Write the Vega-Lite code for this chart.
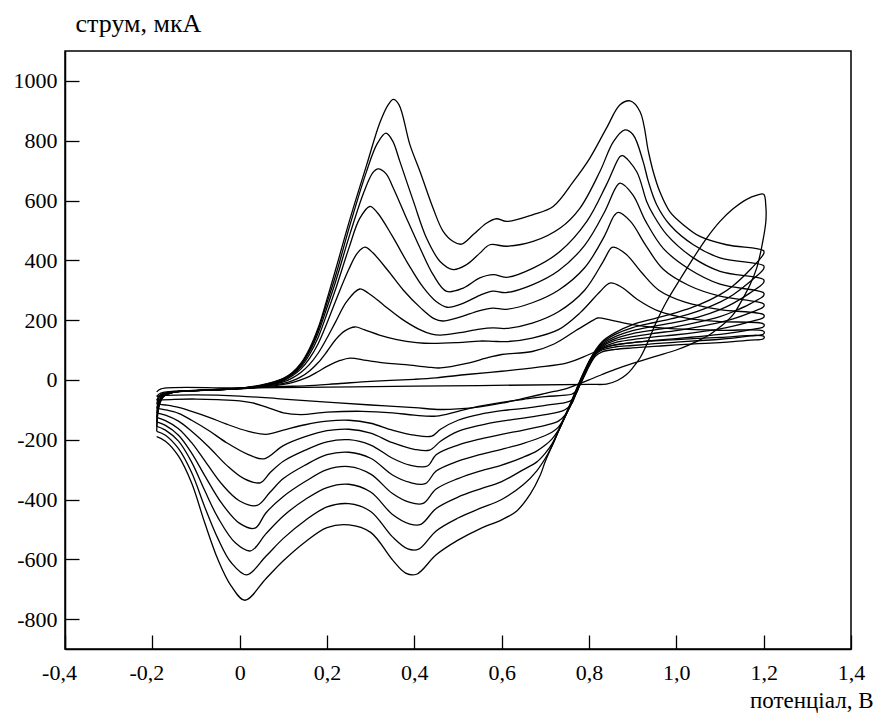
{
"$schema":"https://vega.github.io/schema/vega-lite/v6.json",
"width":786,"height":598,
"autosize":{"type":"none"},
"padding":{"left":65,"top":51,"right":25,"bottom":66},
"background":"white",
"config":{"font":"Liberation Serif, Times New Roman, serif","view":{"stroke":"black","strokeWidth":1.5},
"axis":{"labelFont":"Liberation Serif, Times New Roman, serif","labelFontSize":22,"labelColor":"black","titleFont":"Liberation Serif, Times New Roman, serif","titleFontSize":22,"titleFontWeight":"normal","titleColor":"black","domainColor":"black","domainWidth":1.5,"tickColor":"black","tickWidth":1.3,"grid":false,"labelOverlap":false,"labelFlush":false,"labelBound":false}},
"data":{"values":[
{"c":0,"i":0,"v":-0.19,"a":-40},{"c":0,"i":1,"v":-0.18,"a":-30},{"c":0,"i":2,"v":0.0,"a":-27},{"c":0,"i":3,"v":0.4,"a":-21},{"c":0,"i":4,"v":0.8,"a":-15},{"c":0,"i":5,"v":0.84,"a":-14},{"c":0,"i":6,"v":0.865,"a":-2},{"c":0,"i":7,"v":0.886,"a":18},{"c":0,"i":8,"v":0.9,"a":40},{"c":0,"i":9,"v":0.917,"a":74},{"c":0,"i":10,"v":0.932,"a":118},{"c":0,"i":11,"v":0.955,"a":196},{"c":0,"i":12,"v":0.978,"a":263},{"c":0,"i":13,"v":1.01,"a":340},{"c":0,"i":14,"v":1.04,"a":410},{"c":0,"i":15,"v":1.07,"a":475},{"c":0,"i":16,"v":1.1,"a":530},{"c":0,"i":17,"v":1.13,"a":572},{"c":0,"i":18,"v":1.16,"a":603},{"c":0,"i":19,"v":1.185,"a":618},{"c":0,"i":20,"v":1.2,"a":621},{"c":0,"i":21,"v":1.205,"a":580},{"c":0,"i":22,"v":1.205,"a":530},{"c":0,"i":23,"v":1.195,"a":441},{"c":0,"i":24,"v":1.184,"a":374},{"c":0,"i":25,"v":1.169,"a":319},{"c":0,"i":26,"v":1.153,"a":274},{"c":0,"i":27,"v":1.13,"a":218},{"c":0,"i":28,"v":1.107,"a":185},{"c":0,"i":29,"v":1.077,"a":152},{"c":0,"i":30,"v":1.047,"a":129},{"c":0,"i":31,"v":1.031,"a":118},{"c":0,"i":32,"v":1.0,"a":100},{"c":0,"i":33,"v":0.95,"a":78},{"c":0,"i":34,"v":0.9,"a":55},{"c":0,"i":35,"v":0.86,"a":35},{"c":0,"i":36,"v":0.83,"a":18},{"c":0,"i":37,"v":0.8,"a":0},{"c":0,"i":38,"v":0.78,"a":-12},{"c":0,"i":39,"v":0.75,"a":-28},{"c":0,"i":40,"v":0.7,"a":-45},{"c":0,"i":41,"v":0.65,"a":-62},{"c":0,"i":42,"v":0.6,"a":-78},{"c":0,"i":43,"v":0.55,"a":-90},{"c":0,"i":44,"v":0.5,"a":-97},{"c":0,"i":45,"v":0.46,"a":-99},{"c":0,"i":46,"v":0.4,"a":-93},{"c":0,"i":47,"v":0.3,"a":-84},{"c":0,"i":48,"v":0.2,"a":-74},{"c":0,"i":49,"v":0.1,"a":-64},{"c":0,"i":50,"v":0.0,"a":-54},{"c":0,"i":51,"v":-0.1,"a":-50},{"c":0,"i":52,"v":-0.17,"a":-52},{"c":0,"i":53,"v":-0.19,"a":-55},

{"c":1,"i":0,"v":-0.19,"a":-55},{"c":1,"i":1,"v":-0.185,"a":-48},{"c":1,"i":2,"v":-0.175,"a":-42},{"c":1,"i":3,"v":-0.15,"a":-38},{"c":1,"i":4,"v":-0.1,"a":-35},{"c":1,"i":5,"v":-0.05,"a":-32},{"c":1,"i":6,"v":0.0,"a":-30},{"c":1,"i":7,"v":0.05,"a":-25},{"c":1,"i":8,"v":0.1,"a":-22},{"c":1,"i":9,"v":0.15,"a":-20},{"c":1,"i":10,"v":0.23,"a":-12},{"c":1,"i":11,"v":0.3,"a":-5},{"c":1,"i":12,"v":0.4,"a":2},{"c":1,"i":13,"v":0.45,"a":7},{"c":1,"i":14,"v":0.52,"a":18},{"c":1,"i":15,"v":0.6,"a":29},{"c":1,"i":16,"v":0.68,"a":42},{"c":1,"i":17,"v":0.75,"a":57},{"c":1,"i":18,"v":0.8,"a":85},{"c":1,"i":19,"v":0.84,"a":110},{"c":1,"i":20,"v":0.9,"a":125},{"c":1,"i":21,"v":1.0,"a":135},{"c":1,"i":22,"v":1.1,"a":142},{"c":1,"i":23,"v":1.2,"a":146},
{"c":1,"i":24,"v":1.2,"a":138},{"c":1,"i":25,"v":1.17,"a":133},{"c":1,"i":26,"v":1.13,"a":128},{"c":1,"i":27,"v":1.1,"a":125},{"c":1,"i":28,"v":1.05,"a":121},{"c":1,"i":29,"v":1.0,"a":117},{"c":1,"i":30,"v":0.95,"a":112},{"c":1,"i":31,"v":0.9,"a":107},{"c":1,"i":32,"v":0.86,"a":102},{"c":1,"i":33,"v":0.83,"a":94},{"c":1,"i":34,"v":0.815,"a":80},{"c":1,"i":35,"v":0.8,"a":45},{"c":1,"i":36,"v":0.79,"a":15},{"c":1,"i":37,"v":0.78,"a":-15},{"c":1,"i":38,"v":0.77,"a":-38},{"c":1,"i":39,"v":0.76,"a":-48},{"c":1,"i":40,"v":0.74,"a":-52},{"c":1,"i":41,"v":0.7,"a":-56},{"c":1,"i":42,"v":0.65,"a":-65},{"c":1,"i":43,"v":0.6,"a":-75},{"c":1,"i":44,"v":0.55,"a":-88},{"c":1,"i":45,"v":0.5,"a":-105},{"c":1,"i":46,"v":0.45,"a":-121},{"c":1,"i":47,"v":0.4,"a":-118},{"c":1,"i":48,"v":0.35,"a":-110},{"c":1,"i":49,"v":0.28,"a":-105},{"c":1,"i":50,"v":0.2,"a":-108},{"c":1,"i":51,"v":0.14,"a":-116},{"c":1,"i":52,"v":0.1,"a":-110},{"c":1,"i":53,"v":0.06,"a":-90},{"c":1,"i":54,"v":0.03,"a":-77},{"c":1,"i":55,"v":0.0,"a":-70},{"c":1,"i":56,"v":-0.05,"a":-66},{"c":1,"i":57,"v":-0.1,"a":-64},{"c":1,"i":58,"v":-0.15,"a":-65},{"c":1,"i":59,"v":-0.19,"a":-68},

{"c":2,"i":0,"v":-0.19,"a":-68},{"c":2,"i":1,"v":-0.185,"a":-55},{"c":2,"i":2,"v":-0.175,"a":-45},{"c":2,"i":3,"v":-0.15,"a":-39},{"c":2,"i":4,"v":-0.1,"a":-35},{"c":2,"i":5,"v":-0.05,"a":-32},{"c":2,"i":6,"v":0.0,"a":-29},{"c":2,"i":7,"v":0.05,"a":-24},{"c":2,"i":8,"v":0.1,"a":-15},{"c":2,"i":9,"v":0.12,"a":-9},{"c":2,"i":10,"v":0.14,"a":0},{"c":2,"i":11,"v":0.16,"a":12},{"c":2,"i":12,"v":0.18,"a":28},{"c":2,"i":13,"v":0.2,"a":45},{"c":2,"i":14,"v":0.23,"a":65},{"c":2,"i":15,"v":0.253,"a":73},{"c":2,"i":16,"v":0.29,"a":65},{"c":2,"i":17,"v":0.33,"a":57},{"c":2,"i":18,"v":0.38,"a":51},{"c":2,"i":19,"v":0.43,"a":43},{"c":2,"i":20,"v":0.46,"a":40},{"c":2,"i":21,"v":0.52,"a":55},{"c":2,"i":22,"v":0.57,"a":75},{"c":2,"i":23,"v":0.6,"a":85},{"c":2,"i":24,"v":0.67,"a":95},{"c":2,"i":25,"v":0.72,"a":120},{"c":2,"i":26,"v":0.77,"a":165},{"c":2,"i":27,"v":0.81,"a":200},{"c":2,"i":28,"v":0.82,"a":207},{"c":2,"i":29,"v":0.85,"a":200},{"c":2,"i":30,"v":0.9,"a":185},{"c":2,"i":31,"v":0.98,"a":172},{"c":2,"i":32,"v":1.1,"a":166},{"c":2,"i":33,"v":1.2,"a":163},
{"c":2,"i":34,"v":1.2,"a":154},{"c":2,"i":35,"v":1.17,"a":147},{"c":2,"i":36,"v":1.13,"a":140},{"c":2,"i":37,"v":1.1,"a":136},{"c":2,"i":38,"v":1.05,"a":131},{"c":2,"i":39,"v":1.0,"a":126},{"c":2,"i":40,"v":0.95,"a":121},{"c":2,"i":41,"v":0.9,"a":115},{"c":2,"i":42,"v":0.86,"a":110},{"c":2,"i":43,"v":0.83,"a":100},{"c":2,"i":44,"v":0.815,"a":85},{"c":2,"i":45,"v":0.8,"a":48},{"c":2,"i":46,"v":0.79,"a":18},{"c":2,"i":47,"v":0.78,"a":-14},{"c":2,"i":48,"v":0.77,"a":-48},{"c":2,"i":49,"v":0.76,"a":-68},{"c":2,"i":50,"v":0.745,"a":-76},{"c":2,"i":51,"v":0.7,"a":-85},{"c":2,"i":52,"v":0.65,"a":-95},{"c":2,"i":53,"v":0.6,"a":-103},{"c":2,"i":54,"v":0.55,"a":-115},{"c":2,"i":55,"v":0.5,"a":-135},{"c":2,"i":56,"v":0.46,"a":-165},{"c":2,"i":57,"v":0.44,"a":-188},{"c":2,"i":58,"v":0.4,"a":-185},{"c":2,"i":59,"v":0.35,"a":-168},{"c":2,"i":60,"v":0.3,"a":-145},{"c":2,"i":61,"v":0.25,"a":-135},{"c":2,"i":62,"v":0.2,"a":-138},{"c":2,"i":63,"v":0.15,"a":-150},{"c":2,"i":64,"v":0.1,"a":-168},{"c":2,"i":65,"v":0.06,"a":-182},{"c":2,"i":66,"v":0.02,"a":-172},{"c":2,"i":67,"v":-0.03,"a":-148},{"c":2,"i":68,"v":-0.07,"a":-125},{"c":2,"i":69,"v":-0.11,"a":-105},{"c":2,"i":70,"v":-0.14,"a":-92},{"c":2,"i":71,"v":-0.17,"a":-84},{"c":2,"i":72,"v":-0.19,"a":-80},

{"c":3,"i":0,"v":-0.19,"a":-80},{"c":3,"i":1,"v":-0.185,"a":-60},{"c":3,"i":2,"v":-0.175,"a":-47},{"c":3,"i":3,"v":-0.15,"a":-40},{"c":3,"i":4,"v":-0.1,"a":-36},{"c":3,"i":5,"v":-0.05,"a":-32},{"c":3,"i":6,"v":0.0,"a":-29},{"c":3,"i":7,"v":0.05,"a":-23},{"c":3,"i":8,"v":0.1,"a":-12},{"c":3,"i":9,"v":0.12,"a":-3},{"c":3,"i":10,"v":0.14,"a":10},{"c":3,"i":11,"v":0.16,"a":30},{"c":3,"i":12,"v":0.18,"a":58},{"c":3,"i":13,"v":0.2,"a":95},{"c":3,"i":14,"v":0.22,"a":135},{"c":3,"i":15,"v":0.24,"a":163},{"c":3,"i":16,"v":0.264,"a":177},{"c":3,"i":17,"v":0.285,"a":168},{"c":3,"i":18,"v":0.32,"a":150},{"c":3,"i":19,"v":0.36,"a":135},{"c":3,"i":20,"v":0.405,"a":125},{"c":3,"i":21,"v":0.44,"a":122},{"c":3,"i":22,"v":0.5,"a":125},{"c":3,"i":23,"v":0.55,"a":130},{"c":3,"i":24,"v":0.58,"a":129},{"c":3,"i":25,"v":0.61,"a":128},{"c":3,"i":26,"v":0.67,"a":140},{"c":3,"i":27,"v":0.73,"a":168},{"c":3,"i":28,"v":0.78,"a":225},{"c":3,"i":29,"v":0.825,"a":295},{"c":3,"i":30,"v":0.848,"a":324},{"c":3,"i":31,"v":0.875,"a":310},{"c":3,"i":32,"v":0.91,"a":270},{"c":3,"i":33,"v":0.96,"a":230},{"c":3,"i":34,"v":1.03,"a":205},{"c":3,"i":35,"v":1.1,"a":195},{"c":3,"i":36,"v":1.2,"a":187},
{"c":3,"i":37,"v":1.2,"a":178},{"c":3,"i":38,"v":1.17,"a":168},{"c":3,"i":39,"v":1.13,"a":158},{"c":3,"i":40,"v":1.1,"a":152},{"c":3,"i":41,"v":1.05,"a":145},{"c":3,"i":42,"v":1.0,"a":138},{"c":3,"i":43,"v":0.95,"a":132},{"c":3,"i":44,"v":0.9,"a":125},{"c":3,"i":45,"v":0.86,"a":118},{"c":3,"i":46,"v":0.83,"a":104},{"c":3,"i":47,"v":0.815,"a":88},{"c":3,"i":48,"v":0.8,"a":50},{"c":3,"i":49,"v":0.79,"a":20},{"c":3,"i":50,"v":0.78,"a":-12},{"c":3,"i":51,"v":0.77,"a":-47},{"c":3,"i":52,"v":0.76,"a":-80},{"c":3,"i":53,"v":0.745,"a":-100},{"c":3,"i":54,"v":0.73,"a":-108},{"c":3,"i":55,"v":0.7,"a":-116},{"c":3,"i":56,"v":0.65,"a":-128},{"c":3,"i":57,"v":0.6,"a":-138},{"c":3,"i":58,"v":0.55,"a":-152},{"c":3,"i":59,"v":0.5,"a":-172},{"c":3,"i":60,"v":0.46,"a":-205},{"c":3,"i":61,"v":0.435,"a":-235},{"c":3,"i":62,"v":0.4,"a":-232},{"c":3,"i":63,"v":0.35,"a":-210},{"c":3,"i":64,"v":0.3,"a":-178},{"c":3,"i":65,"v":0.25,"a":-165},{"c":3,"i":66,"v":0.2,"a":-170},{"c":3,"i":67,"v":0.15,"a":-190},{"c":3,"i":68,"v":0.1,"a":-220},{"c":3,"i":69,"v":0.056,"a":-264},{"c":3,"i":70,"v":0.02,"a":-250},{"c":3,"i":71,"v":-0.03,"a":-210},{"c":3,"i":72,"v":-0.07,"a":-170},{"c":3,"i":73,"v":-0.11,"a":-135},{"c":3,"i":74,"v":-0.14,"a":-112},{"c":3,"i":75,"v":-0.17,"a":-100},{"c":3,"i":76,"v":-0.19,"a":-95},

{"c":4,"i":0,"v":-0.19,"a":-95},{"c":4,"i":1,"v":-0.185,"a":-68},{"c":4,"i":2,"v":-0.175,"a":-50},{"c":4,"i":3,"v":-0.15,"a":-41},{"c":4,"i":4,"v":-0.1,"a":-36},{"c":4,"i":5,"v":-0.05,"a":-33},{"c":4,"i":6,"v":0.0,"a":-29},{"c":4,"i":7,"v":0.05,"a":-22},{"c":4,"i":8,"v":0.1,"a":-7},{"c":4,"i":9,"v":0.12,"a":6},{"c":4,"i":10,"v":0.14,"a":25},{"c":4,"i":11,"v":0.16,"a":52},{"c":4,"i":12,"v":0.18,"a":90},{"c":4,"i":13,"v":0.2,"a":140},{"c":4,"i":14,"v":0.22,"a":195},{"c":4,"i":15,"v":0.245,"a":262},{"c":4,"i":16,"v":0.275,"a":304},{"c":4,"i":17,"v":0.295,"a":290},{"c":4,"i":18,"v":0.33,"a":250},{"c":4,"i":19,"v":0.37,"a":205},{"c":4,"i":20,"v":0.41,"a":170},{"c":4,"i":21,"v":0.44,"a":153},{"c":4,"i":22,"v":0.46,"a":150},{"c":4,"i":23,"v":0.5,"a":157},{"c":4,"i":24,"v":0.55,"a":170},{"c":4,"i":25,"v":0.58,"a":174},{"c":4,"i":26,"v":0.61,"a":172},{"c":4,"i":27,"v":0.67,"a":190},{"c":4,"i":28,"v":0.73,"a":228},{"c":4,"i":29,"v":0.79,"a":300},{"c":4,"i":30,"v":0.832,"a":395},{"c":4,"i":31,"v":0.85,"a":440},{"c":4,"i":32,"v":0.856,"a":444},{"c":4,"i":33,"v":0.885,"a":420},{"c":4,"i":34,"v":0.92,"a":360},{"c":4,"i":35,"v":0.96,"a":300},{"c":4,"i":36,"v":1.02,"a":260},{"c":4,"i":37,"v":1.1,"a":235},{"c":4,"i":38,"v":1.2,"a":218},
{"c":4,"i":39,"v":1.2,"a":209},{"c":4,"i":40,"v":1.17,"a":195},{"c":4,"i":41,"v":1.13,"a":180},{"c":4,"i":42,"v":1.1,"a":171},{"c":4,"i":43,"v":1.05,"a":160},{"c":4,"i":44,"v":1.0,"a":151},{"c":4,"i":45,"v":0.95,"a":144},{"c":4,"i":46,"v":0.9,"a":135},{"c":4,"i":47,"v":0.86,"a":125},{"c":4,"i":48,"v":0.83,"a":108},{"c":4,"i":49,"v":0.815,"a":90},{"c":4,"i":50,"v":0.8,"a":52},{"c":4,"i":51,"v":0.79,"a":22},{"c":4,"i":52,"v":0.78,"a":-10},{"c":4,"i":53,"v":0.77,"a":-45},{"c":4,"i":54,"v":0.76,"a":-80},{"c":4,"i":55,"v":0.745,"a":-118},{"c":4,"i":56,"v":0.73,"a":-138},{"c":4,"i":57,"v":0.715,"a":-146},{"c":4,"i":58,"v":0.7,"a":-152},{"c":4,"i":59,"v":0.65,"a":-168},{"c":4,"i":60,"v":0.6,"a":-182},{"c":4,"i":61,"v":0.55,"a":-198},{"c":4,"i":62,"v":0.5,"a":-218},{"c":4,"i":63,"v":0.45,"a":-250},{"c":4,"i":64,"v":0.43,"a":-288},{"c":4,"i":65,"v":0.39,"a":-285},{"c":4,"i":66,"v":0.35,"a":-262},{"c":4,"i":67,"v":0.3,"a":-218},{"c":4,"i":68,"v":0.25,"a":-200},{"c":4,"i":69,"v":0.2,"a":-207},{"c":4,"i":70,"v":0.15,"a":-235},{"c":4,"i":71,"v":0.1,"a":-272},{"c":4,"i":72,"v":0.07,"a":-310},{"c":4,"i":73,"v":0.047,"a":-344},{"c":4,"i":74,"v":0.01,"a":-330},{"c":4,"i":75,"v":-0.03,"a":-285},{"c":4,"i":76,"v":-0.07,"a":-225},{"c":4,"i":77,"v":-0.11,"a":-172},{"c":4,"i":78,"v":-0.14,"a":-138},{"c":4,"i":79,"v":-0.17,"a":-118},{"c":4,"i":80,"v":-0.19,"a":-110},

{"c":5,"i":0,"v":-0.19,"a":-110},{"c":5,"i":1,"v":-0.185,"a":-75},{"c":5,"i":2,"v":-0.175,"a":-52},{"c":5,"i":3,"v":-0.15,"a":-41},{"c":5,"i":4,"v":-0.1,"a":-36},{"c":5,"i":5,"v":-0.05,"a":-33},{"c":5,"i":6,"v":0.0,"a":-28},{"c":5,"i":7,"v":0.05,"a":-21},{"c":5,"i":8,"v":0.1,"a":-3},{"c":5,"i":9,"v":0.12,"a":13},{"c":5,"i":10,"v":0.14,"a":36},{"c":5,"i":11,"v":0.16,"a":72},{"c":5,"i":12,"v":0.18,"a":122},{"c":5,"i":13,"v":0.2,"a":190},{"c":5,"i":14,"v":0.22,"a":265},{"c":5,"i":15,"v":0.25,"a":370},{"c":5,"i":16,"v":0.27,"a":425},{"c":5,"i":17,"v":0.287,"a":444},{"c":5,"i":18,"v":0.305,"a":425},{"c":5,"i":19,"v":0.34,"a":365},{"c":5,"i":20,"v":0.375,"a":300},{"c":5,"i":21,"v":0.415,"a":240},{"c":5,"i":22,"v":0.445,"a":205},{"c":5,"i":23,"v":0.465,"a":197},{"c":5,"i":24,"v":0.5,"a":208},{"c":5,"i":25,"v":0.55,"a":232},{"c":5,"i":26,"v":0.58,"a":240},{"c":5,"i":27,"v":0.61,"a":236},{"c":5,"i":28,"v":0.67,"a":258},{"c":5,"i":29,"v":0.73,"a":300},{"c":5,"i":30,"v":0.79,"a":375},{"c":5,"i":31,"v":0.835,"a":480},{"c":5,"i":32,"v":0.858,"a":550},{"c":5,"i":33,"v":0.867,"a":560},{"c":5,"i":34,"v":0.895,"a":530},{"c":5,"i":35,"v":0.93,"a":450},{"c":5,"i":36,"v":0.97,"a":370},{"c":5,"i":37,"v":1.03,"a":315},{"c":5,"i":38,"v":1.1,"a":280},{"c":5,"i":39,"v":1.2,"a":254},
{"c":5,"i":40,"v":1.2,"a":245},{"c":5,"i":41,"v":1.17,"a":225},{"c":5,"i":42,"v":1.13,"a":204},{"c":5,"i":43,"v":1.1,"a":192},{"c":5,"i":44,"v":1.05,"a":177},{"c":5,"i":45,"v":1.0,"a":165},{"c":5,"i":46,"v":0.95,"a":156},{"c":5,"i":47,"v":0.9,"a":145},{"c":5,"i":48,"v":0.86,"a":132},{"c":5,"i":49,"v":0.83,"a":112},{"c":5,"i":50,"v":0.815,"a":92},{"c":5,"i":51,"v":0.8,"a":54},{"c":5,"i":52,"v":0.79,"a":24},{"c":5,"i":53,"v":0.78,"a":-8},{"c":5,"i":54,"v":0.77,"a":-43},{"c":5,"i":55,"v":0.76,"a":-78},{"c":5,"i":56,"v":0.745,"a":-123},{"c":5,"i":57,"v":0.73,"a":-158},{"c":5,"i":58,"v":0.715,"a":-175},{"c":5,"i":59,"v":0.7,"a":-186},{"c":5,"i":60,"v":0.65,"a":-212},{"c":5,"i":61,"v":0.6,"a":-232},{"c":5,"i":62,"v":0.55,"a":-250},{"c":5,"i":63,"v":0.5,"a":-272},{"c":5,"i":64,"v":0.45,"a":-305},{"c":5,"i":65,"v":0.425,"a":-347},{"c":5,"i":66,"v":0.39,"a":-343},{"c":5,"i":67,"v":0.35,"a":-318},{"c":5,"i":68,"v":0.3,"a":-262},{"c":5,"i":69,"v":0.25,"a":-242},{"c":5,"i":70,"v":0.2,"a":-250},{"c":5,"i":71,"v":0.15,"a":-285},{"c":5,"i":72,"v":0.1,"a":-330},{"c":5,"i":73,"v":0.07,"a":-375},{"c":5,"i":74,"v":0.04,"a":-420},{"c":5,"i":75,"v":0.0,"a":-405},{"c":5,"i":76,"v":-0.04,"a":-350},{"c":5,"i":77,"v":-0.08,"a":-270},{"c":5,"i":78,"v":-0.11,"a":-210},{"c":5,"i":79,"v":-0.14,"a":-163},{"c":5,"i":80,"v":-0.17,"a":-136},{"c":5,"i":81,"v":-0.19,"a":-125},

{"c":6,"i":0,"v":-0.19,"a":-125},{"c":6,"i":1,"v":-0.185,"a":-80},{"c":6,"i":2,"v":-0.175,"a":-54},{"c":6,"i":3,"v":-0.15,"a":-41},{"c":6,"i":4,"v":-0.1,"a":-36},{"c":6,"i":5,"v":-0.05,"a":-33},{"c":6,"i":6,"v":0.0,"a":-28},{"c":6,"i":7,"v":0.05,"a":-20},{"c":6,"i":8,"v":0.1,"a":0},{"c":6,"i":9,"v":0.12,"a":17},{"c":6,"i":10,"v":0.14,"a":43},{"c":6,"i":11,"v":0.16,"a":85},{"c":6,"i":12,"v":0.18,"a":143},{"c":6,"i":13,"v":0.2,"a":222},{"c":6,"i":14,"v":0.22,"a":305},{"c":6,"i":15,"v":0.25,"a":440},{"c":6,"i":16,"v":0.275,"a":540},{"c":6,"i":17,"v":0.298,"a":580},{"c":6,"i":18,"v":0.315,"a":560},{"c":6,"i":19,"v":0.35,"a":480},{"c":6,"i":20,"v":0.385,"a":390},{"c":6,"i":21,"v":0.42,"a":310},{"c":6,"i":22,"v":0.45,"a":262},{"c":6,"i":23,"v":0.475,"a":243},{"c":6,"i":24,"v":0.51,"a":255},{"c":6,"i":25,"v":0.55,"a":283},{"c":6,"i":26,"v":0.58,"a":297},{"c":6,"i":27,"v":0.61,"a":292},{"c":6,"i":28,"v":0.67,"a":318},{"c":6,"i":29,"v":0.73,"a":365},{"c":6,"i":30,"v":0.79,"a":450},{"c":6,"i":31,"v":0.835,"a":560},{"c":6,"i":32,"v":0.862,"a":645},{"c":6,"i":33,"v":0.871,"a":658},{"c":6,"i":34,"v":0.9,"a":620},{"c":6,"i":35,"v":0.93,"a":530},{"c":6,"i":36,"v":0.97,"a":440},{"c":6,"i":37,"v":1.03,"a":370},{"c":6,"i":38,"v":1.1,"a":320},{"c":6,"i":39,"v":1.2,"a":291},
{"c":6,"i":40,"v":1.2,"a":282},{"c":6,"i":41,"v":1.17,"a":255},{"c":6,"i":42,"v":1.13,"a":228},{"c":6,"i":43,"v":1.1,"a":212},{"c":6,"i":44,"v":1.05,"a":193},{"c":6,"i":45,"v":1.0,"a":178},{"c":6,"i":46,"v":0.95,"a":167},{"c":6,"i":47,"v":0.9,"a":155},{"c":6,"i":48,"v":0.86,"a":138},{"c":6,"i":49,"v":0.83,"a":116},{"c":6,"i":50,"v":0.815,"a":94},{"c":6,"i":51,"v":0.8,"a":56},{"c":6,"i":52,"v":0.79,"a":26},{"c":6,"i":53,"v":0.78,"a":-6},{"c":6,"i":54,"v":0.77,"a":-41},{"c":6,"i":55,"v":0.76,"a":-76},{"c":6,"i":56,"v":0.745,"a":-124},{"c":6,"i":57,"v":0.73,"a":-168},{"c":6,"i":58,"v":0.715,"a":-198},{"c":6,"i":59,"v":0.7,"a":-218},{"c":6,"i":60,"v":0.68,"a":-238},{"c":6,"i":61,"v":0.65,"a":-258},{"c":6,"i":62,"v":0.6,"a":-285},{"c":6,"i":63,"v":0.55,"a":-305},{"c":6,"i":64,"v":0.5,"a":-330},{"c":6,"i":65,"v":0.45,"a":-365},{"c":6,"i":66,"v":0.42,"a":-413},{"c":6,"i":67,"v":0.39,"a":-410},{"c":6,"i":68,"v":0.35,"a":-380},{"c":6,"i":69,"v":0.3,"a":-315},{"c":6,"i":70,"v":0.25,"a":-290},{"c":6,"i":71,"v":0.2,"a":-300},{"c":6,"i":72,"v":0.15,"a":-340},{"c":6,"i":73,"v":0.1,"a":-390},{"c":6,"i":74,"v":0.06,"a":-445},{"c":6,"i":75,"v":0.035,"a":-496},{"c":6,"i":76,"v":0.0,"a":-480},{"c":6,"i":77,"v":-0.04,"a":-415},{"c":6,"i":78,"v":-0.08,"a":-320},{"c":6,"i":79,"v":-0.11,"a":-245},{"c":6,"i":80,"v":-0.14,"a":-185},{"c":6,"i":81,"v":-0.17,"a":-152},{"c":6,"i":82,"v":-0.19,"a":-140},

{"c":7,"i":0,"v":-0.19,"a":-140},{"c":7,"i":1,"v":-0.185,"a":-85},{"c":7,"i":2,"v":-0.175,"a":-55},{"c":7,"i":3,"v":-0.15,"a":-41},{"c":7,"i":4,"v":-0.1,"a":-36},{"c":7,"i":5,"v":-0.05,"a":-33},{"c":7,"i":6,"v":0.0,"a":-28},{"c":7,"i":7,"v":0.05,"a":-19},{"c":7,"i":8,"v":0.1,"a":2},{"c":7,"i":9,"v":0.12,"a":20},{"c":7,"i":10,"v":0.14,"a":48},{"c":7,"i":11,"v":0.16,"a":94},{"c":7,"i":12,"v":0.18,"a":158},{"c":7,"i":13,"v":0.2,"a":242},{"c":7,"i":14,"v":0.22,"a":330},{"c":7,"i":15,"v":0.253,"a":490},{"c":7,"i":16,"v":0.285,"a":630},{"c":7,"i":17,"v":0.305,"a":693},{"c":7,"i":18,"v":0.317,"a":706},{"c":7,"i":19,"v":0.335,"a":690},{"c":7,"i":20,"v":0.352,"a":641},{"c":7,"i":21,"v":0.382,"a":541},{"c":7,"i":22,"v":0.413,"a":441},{"c":7,"i":23,"v":0.443,"a":352},{"c":7,"i":24,"v":0.474,"a":296},{"c":7,"i":25,"v":0.512,"a":307},{"c":7,"i":26,"v":0.55,"a":341},{"c":7,"i":27,"v":0.581,"a":352},{"c":7,"i":28,"v":0.611,"a":343},{"c":7,"i":29,"v":0.672,"a":374},{"c":7,"i":30,"v":0.734,"a":430},{"c":7,"i":31,"v":0.795,"a":530},{"c":7,"i":32,"v":0.84,"a":653},{"c":7,"i":33,"v":0.871,"a":747},{"c":7,"i":34,"v":0.877,"a":750},{"c":7,"i":35,"v":0.909,"a":697},{"c":7,"i":36,"v":0.932,"a":597},{"c":7,"i":37,"v":0.947,"a":553},{"c":7,"i":38,"v":0.978,"a":486},{"c":7,"i":39,"v":1.039,"a":408},{"c":7,"i":40,"v":1.1,"a":363},{"c":7,"i":41,"v":1.2,"a":335},
{"c":7,"i":42,"v":1.2,"a":326},{"c":7,"i":43,"v":1.17,"a":292},{"c":7,"i":44,"v":1.13,"a":256},{"c":7,"i":45,"v":1.1,"a":235},{"c":7,"i":46,"v":1.05,"a":210},{"c":7,"i":47,"v":1.0,"a":193},{"c":7,"i":48,"v":0.95,"a":180},{"c":7,"i":49,"v":0.9,"a":165},{"c":7,"i":50,"v":0.86,"a":145},{"c":7,"i":51,"v":0.83,"a":120},{"c":7,"i":52,"v":0.815,"a":96},{"c":7,"i":53,"v":0.8,"a":58},{"c":7,"i":54,"v":0.79,"a":28},{"c":7,"i":55,"v":0.78,"a":-4},{"c":7,"i":56,"v":0.77,"a":-39},{"c":7,"i":57,"v":0.76,"a":-74},{"c":7,"i":58,"v":0.745,"a":-124},{"c":7,"i":59,"v":0.73,"a":-172},{"c":7,"i":60,"v":0.715,"a":-215},{"c":7,"i":61,"v":0.7,"a":-245},{"c":7,"i":62,"v":0.68,"a":-275},{"c":7,"i":63,"v":0.65,"a":-300},{"c":7,"i":64,"v":0.6,"a":-340},{"c":7,"i":65,"v":0.55,"a":-365},{"c":7,"i":66,"v":0.5,"a":-392},{"c":7,"i":67,"v":0.45,"a":-430},{"c":7,"i":68,"v":0.415,"a":-483},{"c":7,"i":69,"v":0.39,"a":-482},{"c":7,"i":70,"v":0.35,"a":-450},{"c":7,"i":71,"v":0.3,"a":-375},{"c":7,"i":72,"v":0.25,"a":-349},{"c":7,"i":73,"v":0.2,"a":-360},{"c":7,"i":74,"v":0.15,"a":-400},{"c":7,"i":75,"v":0.1,"a":-455},{"c":7,"i":76,"v":0.06,"a":-515},{"c":7,"i":77,"v":0.025,"a":-572},{"c":7,"i":78,"v":-0.01,"a":-545},{"c":7,"i":79,"v":-0.05,"a":-460},{"c":7,"i":80,"v":-0.08,"a":-370},{"c":7,"i":81,"v":-0.11,"a":-275},{"c":7,"i":82,"v":-0.14,"a":-205},{"c":7,"i":83,"v":-0.17,"a":-168},{"c":7,"i":84,"v":-0.19,"a":-155},

{"c":8,"i":0,"v":-0.19,"a":-155},{"c":8,"i":1,"v":-0.185,"a":-88},{"c":8,"i":2,"v":-0.175,"a":-56},{"c":8,"i":3,"v":-0.15,"a":-41},{"c":8,"i":4,"v":-0.1,"a":-36},{"c":8,"i":5,"v":-0.05,"a":-33},{"c":8,"i":6,"v":0.0,"a":-28},{"c":8,"i":7,"v":0.05,"a":-18},{"c":8,"i":8,"v":0.1,"a":4},{"c":8,"i":9,"v":0.12,"a":22},{"c":8,"i":10,"v":0.14,"a":52},{"c":8,"i":11,"v":0.16,"a":100},{"c":8,"i":12,"v":0.18,"a":168},{"c":8,"i":13,"v":0.2,"a":258},{"c":8,"i":14,"v":0.22,"a":350},{"c":8,"i":15,"v":0.253,"a":520},{"c":8,"i":16,"v":0.29,"a":695},{"c":8,"i":17,"v":0.315,"a":790},{"c":8,"i":18,"v":0.335,"a":825},{"c":8,"i":19,"v":0.35,"a":800},{"c":8,"i":20,"v":0.367,"a":730},{"c":8,"i":21,"v":0.398,"a":597},{"c":8,"i":22,"v":0.428,"a":474},{"c":8,"i":23,"v":0.459,"a":396},{"c":8,"i":24,"v":0.489,"a":369},{"c":8,"i":25,"v":0.519,"a":385},{"c":8,"i":26,"v":0.55,"a":424},{"c":8,"i":27,"v":0.573,"a":452},{"c":8,"i":28,"v":0.611,"a":447},{"c":8,"i":29,"v":0.672,"a":463},{"c":8,"i":30,"v":0.734,"a":508},{"c":8,"i":31,"v":0.779,"a":574},{"c":8,"i":32,"v":0.825,"a":697},{"c":8,"i":33,"v":0.856,"a":797},{"c":8,"i":34,"v":0.882,"a":836},{"c":8,"i":35,"v":0.901,"a":820},{"c":8,"i":36,"v":0.924,"a":730},{"c":8,"i":37,"v":0.936,"a":663},{"c":8,"i":38,"v":0.955,"a":586},{"c":8,"i":39,"v":0.985,"a":519},{"c":8,"i":40,"v":1.039,"a":452},{"c":8,"i":41,"v":1.1,"a":408},{"c":8,"i":42,"v":1.2,"a":382},
{"c":8,"i":43,"v":1.2,"a":372},{"c":8,"i":44,"v":1.17,"a":330},{"c":8,"i":45,"v":1.13,"a":285},{"c":8,"i":46,"v":1.1,"a":260},{"c":8,"i":47,"v":1.05,"a":230},{"c":8,"i":48,"v":1.0,"a":208},{"c":8,"i":49,"v":0.95,"a":192},{"c":8,"i":50,"v":0.9,"a":175},{"c":8,"i":51,"v":0.86,"a":152},{"c":8,"i":52,"v":0.83,"a":124},{"c":8,"i":53,"v":0.815,"a":98},{"c":8,"i":54,"v":0.8,"a":60},{"c":8,"i":55,"v":0.79,"a":30},{"c":8,"i":56,"v":0.78,"a":-2},{"c":8,"i":57,"v":0.77,"a":-37},{"c":8,"i":58,"v":0.76,"a":-72},{"c":8,"i":59,"v":0.745,"a":-122},{"c":8,"i":60,"v":0.73,"a":-172},{"c":8,"i":61,"v":0.715,"a":-222},{"c":8,"i":62,"v":0.7,"a":-262},{"c":8,"i":63,"v":0.68,"a":-305},{"c":8,"i":64,"v":0.65,"a":-350},{"c":8,"i":65,"v":0.6,"a":-400},{"c":8,"i":66,"v":0.55,"a":-430},{"c":8,"i":67,"v":0.5,"a":-462},{"c":8,"i":68,"v":0.45,"a":-505},{"c":8,"i":69,"v":0.41,"a":-566},{"c":8,"i":70,"v":0.385,"a":-565},{"c":8,"i":71,"v":0.35,"a":-525},{"c":8,"i":72,"v":0.3,"a":-440},{"c":8,"i":73,"v":0.25,"a":-414},{"c":8,"i":74,"v":0.2,"a":-425},{"c":8,"i":75,"v":0.15,"a":-470},{"c":8,"i":76,"v":0.1,"a":-530},{"c":8,"i":77,"v":0.06,"a":-590},{"c":8,"i":78,"v":0.016,"a":-652},{"c":8,"i":79,"v":-0.02,"a":-610},{"c":8,"i":80,"v":-0.05,"a":-530},{"c":8,"i":81,"v":-0.08,"a":-425},{"c":8,"i":82,"v":-0.11,"a":-310},{"c":8,"i":83,"v":-0.14,"a":-230},{"c":8,"i":84,"v":-0.17,"a":-185},{"c":8,"i":85,"v":-0.19,"a":-172},

{"c":9,"i":0,"v":-0.19,"a":-172},{"c":9,"i":1,"v":-0.185,"a":-90},{"c":9,"i":2,"v":-0.175,"a":-57},{"c":9,"i":3,"v":-0.15,"a":-41},{"c":9,"i":4,"v":-0.1,"a":-36},{"c":9,"i":5,"v":-0.05,"a":-33},{"c":9,"i":6,"v":0.0,"a":-28},{"c":9,"i":7,"v":0.05,"a":-17},{"c":9,"i":8,"v":0.08,"a":-6},{"c":9,"i":9,"v":0.1,"a":5},{"c":9,"i":10,"v":0.12,"a":24},{"c":9,"i":11,"v":0.14,"a":55},{"c":9,"i":12,"v":0.16,"a":105},{"c":9,"i":13,"v":0.18,"a":175},{"c":9,"i":14,"v":0.2,"a":270},{"c":9,"i":15,"v":0.22,"a":370},{"c":9,"i":16,"v":0.253,"a":540},{"c":9,"i":17,"v":0.291,"a":720},{"c":9,"i":18,"v":0.321,"a":860},{"c":9,"i":19,"v":0.34,"a":920},{"c":9,"i":20,"v":0.352,"a":938},{"c":9,"i":21,"v":0.365,"a":920},{"c":9,"i":22,"v":0.39,"a":786},{"c":9,"i":23,"v":0.413,"a":697},{"c":9,"i":24,"v":0.443,"a":574},{"c":9,"i":25,"v":0.466,"a":497},{"c":9,"i":26,"v":0.489,"a":463},{"c":9,"i":27,"v":0.508,"a":454},{"c":9,"i":28,"v":0.535,"a":486},{"c":9,"i":29,"v":0.565,"a":524},{"c":9,"i":30,"v":0.588,"a":539},{"c":9,"i":31,"v":0.611,"a":530},{"c":9,"i":32,"v":0.672,"a":553},{"c":9,"i":33,"v":0.718,"a":580},{"c":9,"i":34,"v":0.764,"a":663},{"c":9,"i":35,"v":0.802,"a":742},{"c":9,"i":36,"v":0.84,"a":842},{"c":9,"i":37,"v":0.871,"a":920},{"c":9,"i":38,"v":0.894,"a":933},{"c":9,"i":39,"v":0.917,"a":897},{"c":9,"i":40,"v":0.936,"a":764},{"c":9,"i":41,"v":0.947,"a":697},{"c":9,"i":42,"v":0.962,"a":630},{"c":9,"i":43,"v":0.985,"a":563},{"c":9,"i":44,"v":1.016,"a":519},{"c":9,"i":45,"v":1.054,"a":480},{"c":9,"i":46,"v":1.115,"a":452},{"c":9,"i":47,"v":1.2,"a":432},
{"c":9,"i":48,"v":1.2,"a":422},{"c":9,"i":49,"v":1.17,"a":370},{"c":9,"i":50,"v":1.13,"a":315},{"c":9,"i":51,"v":1.1,"a":285},{"c":9,"i":52,"v":1.05,"a":250},{"c":9,"i":53,"v":1.0,"a":225},{"c":9,"i":54,"v":0.95,"a":205},{"c":9,"i":55,"v":0.9,"a":185},{"c":9,"i":56,"v":0.86,"a":158},{"c":9,"i":57,"v":0.83,"a":128},{"c":9,"i":58,"v":0.815,"a":100},{"c":9,"i":59,"v":0.8,"a":62},{"c":9,"i":60,"v":0.79,"a":32},{"c":9,"i":61,"v":0.78,"a":0},{"c":9,"i":62,"v":0.77,"a":-35},{"c":9,"i":63,"v":0.76,"a":-70},{"c":9,"i":64,"v":0.745,"a":-120},{"c":9,"i":65,"v":0.73,"a":-170},{"c":9,"i":66,"v":0.715,"a":-222},{"c":9,"i":67,"v":0.7,"a":-272},{"c":9,"i":68,"v":0.688,"a":-320},{"c":9,"i":69,"v":0.665,"a":-383},{"c":9,"i":70,"v":0.634,"a":-439},{"c":9,"i":71,"v":0.6,"a":-468},{"c":9,"i":72,"v":0.55,"a":-498},{"c":9,"i":73,"v":0.5,"a":-536},{"c":9,"i":74,"v":0.45,"a":-585},{"c":9,"i":75,"v":0.405,"a":-650},{"c":9,"i":76,"v":0.38,"a":-646},{"c":9,"i":77,"v":0.35,"a":-602},{"c":9,"i":78,"v":0.3,"a":-510},{"c":9,"i":79,"v":0.25,"a":-485},{"c":9,"i":80,"v":0.2,"a":-494},{"c":9,"i":81,"v":0.15,"a":-542},{"c":9,"i":82,"v":0.1,"a":-605},{"c":9,"i":83,"v":0.06,"a":-665},{"c":9,"i":84,"v":0.012,"a":-737},{"c":9,"i":85,"v":-0.02,"a":-688},{"c":9,"i":86,"v":-0.05,"a":-600},{"c":9,"i":87,"v":-0.08,"a":-478},{"c":9,"i":88,"v":-0.11,"a":-345},{"c":9,"i":89,"v":-0.14,"a":-255},{"c":9,"i":90,"v":-0.17,"a":-205},{"c":9,"i":91,"v":-0.19,"a":-190}
]},
"mark":{"type":"line","color":"black","strokeWidth":1.3,"interpolate":"catmull-rom","clip":true},
"encoding":{
"x":{"field":"v","type":"quantitative","scale":{"domain":[-0.4,1.4],"nice":false,"zero":false},
"axis":{"values":[-0.4,-0.2,0,0.2,0.4,0.6,0.8,1.0,1.2,1.4],"labelExpr":"datum.value == 0 ? '0' : (datum.value < 0 ? '-' : '') + replace(format(abs(datum.value), '.1f'), '.', ',')","labelFont":"Liberation Serif, Times New Roman, serif","titleFont":"Liberation Serif, Times New Roman, serif","tickSize":-14,"labelPadding":27,"labelOffset":{"condition":{"test":"datum.value < 0","value":-6},"value":0},"title":"потенціал, В","titleFontSize":23,"titleX":808,"titleY":58,"titleAlign":"right","titleBaseline":"alphabetic","titleAngle":0}},
"y":{"field":"a","type":"quantitative","scale":{"domain":[-900,1100],"nice":false,"zero":false},
"axis":{"values":[-800,-600,-400,-200,0,200,400,600,800,1000],"labelExpr":"(datum.value < 0 ? '-' : '') + format(abs(datum.value), 'd')","labelFont":"Liberation Serif, Times New Roman, serif","titleFont":"Liberation Serif, Times New Roman, serif","tickSize":-14,"labelPadding":22,"title":"струм, мкА","titleFontSize":26,"titleX":10,"titleY":-20,"titleAlign":"left","titleBaseline":"alphabetic","titleAngle":0}},
"detail":{"field":"c","type":"nominal"},
"order":{"field":"i","type":"quantitative"}
}
}
